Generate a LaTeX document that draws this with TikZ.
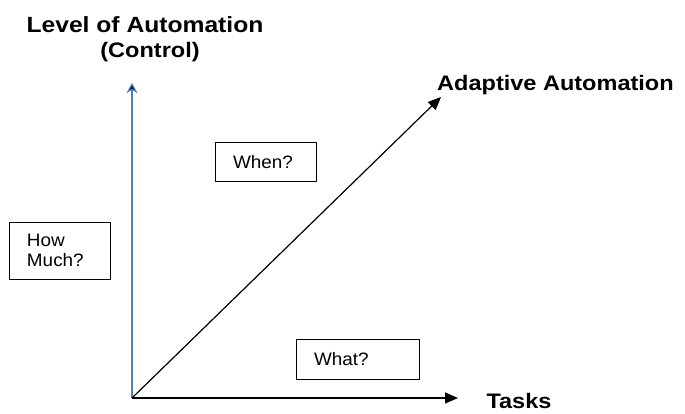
\documentclass[tikz,border=0pt]{standalone}
\usepackage{fontspec}
\setmainfont{Liberation Sans}
\newfontfamily\labelfont{Liberation Sans}[FakeStretch=1.12]
\newfontfamily\boxfont{Liberation Sans}[FakeStretch=1.05]
\usetikzlibrary{arrows.meta}
\definecolor{axisblue}{RGB}{79,129,189}
\definecolor{headnavy}{RGB}{20,30,60}
\begin{document}
\begin{tikzpicture}[x=1pt, y=-1pt,
  axislabel/.style = {font=\labelfont\fontsize{21}{26}\selectfont\bfseries, inner sep=0pt, anchor=base},
  qbox/.style = {draw, line width=1pt, align=left, inner xsep=18pt, inner ysep=0pt,
    font=\boxfont\fontsize{18}{20}\selectfont},
  bigarrow/.style = {line width=1.2pt, -{Triangle[length=13pt,width=11pt]}}]
  \useasboundingbox (0,0) rectangle (685,413);
  \coordinate (origin) at (132,398);
  \coordinate (ytop) at (132,83);
  \coordinate (xend) at (458,398);
  \coordinate (dend) at (441,97);
  \node[axislabel, font=\labelfont\fontsize{22}{26}\selectfont\bfseries] (level) at (145,32) {Level of Automation};
  \node[axislabel] (control) at (150,57) {(Control)};
  \node[axislabel, anchor=base west] (adaptive) at (437,90) {Adaptive Automation};
  \node[axislabel] (tasks) at (519,408) {Tasks};
  \node[qbox, text width=65pt, minimum height=39pt] (when) at (265.5,162) {When?};
  \node[qbox, text width=65pt, minimum height=57pt] (howmuch) at (59.5,250.5) {How\\Much?};
  \node[qbox, text width=87pt, minimum height=40pt] (what) at (357.5,359) {What?};
  \draw[axisblue, line width=2pt, -{Stealth[length=10pt,width=11pt,inset=3pt,line width=1pt,fill=headnavy]}] (origin) -- (ytop);
  \draw[bigarrow] (origin) -- (xend);
  \draw[bigarrow] (origin) -- (dend);
\end{tikzpicture}
\end{document}
